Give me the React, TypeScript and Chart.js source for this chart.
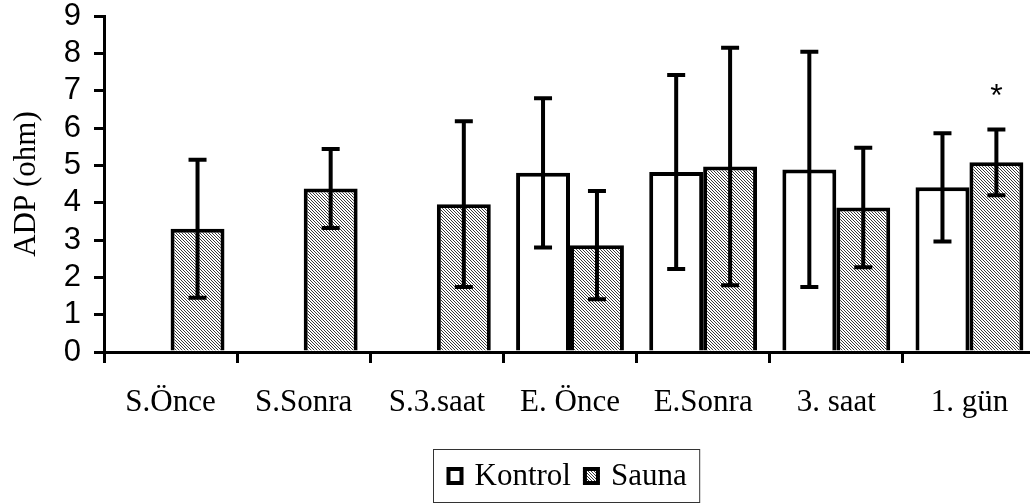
import React, { useEffect, useRef } from "react";
import { Chart, registerables } from "chart.js";

Chart.register(...registerables);

const categories = ["S.Önce", "S.Sonra", "S.3.saat", "E. Önce", "E.Sonra", "3. saat", "1. gün"];
const kontrolValues: (number | null)[] = [null, null, null, 4.8, 4.82, 4.89, 4.41];
const kontrolErrors: (number | null)[] = [null, null, null, 2.0, 2.6, 3.15, 1.45];
const saunaValues: (number | null)[] = [3.3, 4.38, 3.96, 2.86, 4.97, 3.87, 5.08];
const saunaErrors: (number | null)[] = [1.85, 1.06, 2.22, 1.45, 3.18, 1.6, 0.88];
const saunaMarks = ["", "", "", "", "", "", "*"];
const seriesLabels = ["Kontrol", "Sauna"];
const yAxisTitle = "ADP (ohm)";
const yMin = 0;
const yMax = 9;
const yStep = 1;

const SERIF = "'Liberation Serif', 'Times New Roman', serif";
const SANS = "'Liberation Sans', Arial, sans-serif";

function makeHatch(): CanvasPattern | string {
  const tile = document.createElement("canvas");
  tile.width = 3;
  tile.height = 3;
  const c = tile.getContext("2d");
  if (!c) return "#aaa";
  c.fillStyle = "#ffffff";
  c.fillRect(0, 0, 3, 3);
  c.fillStyle = "#3a3a3a";
  for (let i = 0; i < 3; i++) c.fillRect(i, i, 1, 1);
  const main = document.createElement("canvas").getContext("2d");
  return (main && main.createPattern(tile, "repeat")) || "#aaa";
}

export default function App() {
  const ref = useRef<HTMLCanvasElement | null>(null);

  useEffect(() => {
    document.documentElement.style.overflow = "hidden";
    document.body.style.overflow = "hidden";
    document.body.style.margin = "0";
    const canvas = ref.current;
    if (!canvas) return;
    const hatch = makeHatch();
    const errorsByDataset = [kontrolErrors, saunaErrors];
    const marksByDataset = [null, saunaMarks];

    const errorBars = {
      id: "errorBars",
      afterDatasetsDraw(chart: any) {
        const ctx = chart.ctx;
        const ys = chart.scales.y;
        ctx.save();
        ctx.strokeStyle = "#000";
        ctx.lineWidth = 4;
        ctx.lineCap = "butt";
        chart.data.datasets.forEach((ds: any, i: number) => {
          const meta = chart.getDatasetMeta(i);
          const errs = errorsByDataset[i];
          const marks = marksByDataset[i];
          meta.data.forEach((el: any, j: number) => {
            const v = ds.data[j];
            const e = errs[j];
            if (v == null || e == null) return;
            const x = el.x;
            const yt = ys.getPixelForValue(v + e);
            const yb = ys.getPixelForValue(v - e);
            const half = 9;
            ctx.beginPath();
            ctx.moveTo(x, yt - 2);
            ctx.lineTo(x, yb + 2);
            ctx.moveTo(x - half, yt);
            ctx.lineTo(x + half, yt);
            ctx.moveTo(x - half, yb);
            ctx.lineTo(x + half, yb);
            ctx.stroke();
            if (marks && marks[j]) {
              ctx.fillStyle = "#000";
              ctx.font = `32px ${SANS}`;
              ctx.textAlign = "center";
              ctx.textBaseline = "alphabetic";
              ctx.fillText(marks[j], x, yt - 23);
            }
          });
        });
        ctx.restore();
      },
    };

    const boxLegend = {
      id: "boxLegend",
      afterDraw(chart: any) {
        const ctx = chart.ctx;
        ctx.save();
        ctx.font = `31px ${SERIF}`;
        const pad = 13;
        const mw = 17;
        const mh = 18;
        const gapText = 11;
        const gapItem = 12;
        const widths = chart.data.datasets.map((d: any) => ctx.measureText(d.label).width);
        let total = pad * 2;
        widths.forEach((w: number, i: number) => {
          total += mw + gapText + w + (i < widths.length - 1 ? gapItem : 0);
        });
        const cx = 566.5;
        const left = Math.round(cx - total / 2) + 0.5;
        const top = 449.5;
        const h = 53;
        ctx.strokeStyle = "#333";
        ctx.lineWidth = 1;
        ctx.strokeRect(left, top, total, h);
        const my = top + h / 2;
        let x = left + pad;
        chart.data.datasets.forEach((d: any, i: number) => {
          ctx.fillStyle = d.backgroundColor;
          ctx.fillRect(x, my - mh / 2, mw, mh);
          ctx.strokeStyle = "#000";
          ctx.lineWidth = 4;
          ctx.strokeRect(x + 2, my - mh / 2 + 2, mw - 4, mh - 4);
          ctx.fillStyle = "#000";
          ctx.textAlign = "left";
          ctx.textBaseline = "middle";
          ctx.fillText(d.label, x + mw + gapText, my + 1);
          x += mw + gapText + widths[i] + gapItem;
        });
        ctx.restore();
      },
    };

    const chart = new Chart(canvas, {
      type: "bar",
      data: {
        labels: categories,
        datasets: [
          {
            label: seriesLabels[0],
            data: kontrolValues,
            backgroundColor: "#ffffff",
            borderColor: "#000000",
            borderWidth: 4,
            categoryPercentage: 0.81,
            barPercentage: 1,
          },
          {
            label: seriesLabels[1],
            data: saunaValues,
            backgroundColor: hatch as any,
            borderColor: "#000000",
            borderWidth: 4,
            categoryPercentage: 0.81,
            barPercentage: 1,
          },
        ],
      },
      options: {
        responsive: false,
        animation: false,
        events: [],
        layout: { padding: { top: 16, right: 4, left: 0, bottom: 0 } },
        plugins: { legend: { display: false }, tooltip: { enabled: false } },
        scales: {
          x: {
            afterFit(scale: any) {
              scale.height = 152;
              scale.paddingLeft = 0;
              scale.paddingRight = 0;
            },
            grid: {
              offset: true,
              drawOnChartArea: false,
              drawTicks: true,
              tickLength: 11,
              color: "#000",
              lineWidth: 3,
            },
            border: { display: true, color: "#000", width: 3 },
            ticks: {
              color: "#000",
              font: { family: SERIF, size: 31 },
              padding: 21,
              maxRotation: 0,
              autoSkip: false,
            },
          },
          y: {
            min: yMin,
            max: yMax,
            afterFit(scale: any) {
              scale.width = 104;
              scale.paddingTop = 0;
              scale.paddingBottom = 0;
            },
            grid: {
              drawOnChartArea: false,
              drawTicks: true,
              tickLength: 10,
              color: "#000",
              lineWidth: 3,
            },
            border: { display: true, color: "#000", width: 3 },
            ticks: {
              stepSize: yStep,
              color: "#000",
              font: { family: SANS, size: 31, lineHeight: 1 },
              padding: 13,
            },
            title: {
              display: true,
              text: yAxisTitle,
              color: "#000",
              font: { family: SERIF, size: 31 },
              padding: { top: 8, bottom: 0 },
            },
          },
        },
      },
      plugins: [errorBars, boxLegend],
    });
    return () => chart.destroy();
  }, []);

  return (
    <div style={{ position: "fixed", left: 0, top: 0, width: 1040, height: 504, background: "#fff" }}>
      <canvas ref={ref} width={1040} height={504} style={{ width: 1040, height: 504, display: "block" }} />
    </div>
  );
}
